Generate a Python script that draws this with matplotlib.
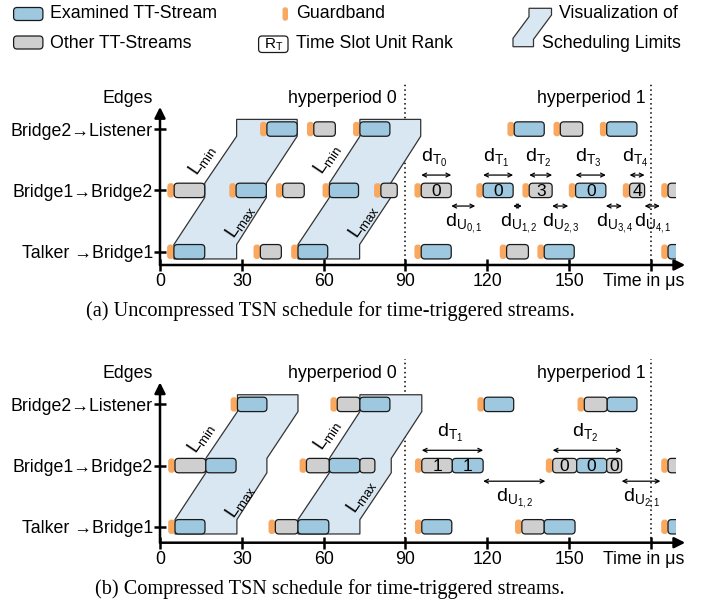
import numpy as np
import matplotlib
matplotlib.use("Agg")
import matplotlib.pyplot as plt
from matplotlib import font_manager as fm
from matplotlib.patches import FancyBboxPatch, Polygon

# ── fonts ─────────────────────────────────────────────────────────────────────
names = {f.name for f in fm.fontManager.ttflist}
SANS = "Liberation Sans Narrow" if "Liberation Sans Narrow" in names else "Liberation Sans"
SERIF = "Liberation Serif"
plt.rcParams["font.family"] = [SANS, "DejaVu Sans"]
plt.rcParams["mathtext.fontset"] = "custom"
plt.rcParams["mathtext.rm"] = SANS
plt.rcParams["mathtext.it"] = SANS

# ── data (times in µs) ────────────────────────────────────────────────────────
EDGES  = ["Talker \u2192Bridge1", "Bridge1\u2192Bridge2", "Bridge2\u2192Listener"]
XTICKS = [0, 30, 60, 90, 120, 150, 180]
XTICK_LABELS = ["0", "30", "60", "90", "120", "150", ""]
HYPER  = [90, 180]

# (start, end, kind, rank)  kind: E examined, O other
A_ROW0 = [(5.1, 16.4, "E", ""), (36.8, 44.5, "O", ""), (50.6, 61.5, "E", ""),
          (95.8, 106.8, "E", ""), (127.1, 135.1, "O", ""), (140.9, 151.9, "E", ""),
          (186.3, 197, "E", "")]
A_ROW1 = [(5.2, 16.4, "O", ""), (27.9, 39.0, "E", ""), (45.0, 52.9, "O", ""),
          (62.1, 72.8, "E", ""), (81.0, 87.0, "O", ""),
          (95.8, 106.8, "O", "0"), (118.5, 129.5, "E", "0"), (135.4, 143.8, "O", "3"),
          (152.4, 163.5, "E", "0"), (172.2, 177.7, "O", "4"), (186.3, 197, "O", "")]
A_ROW2 = [(39.2, 50.3, "E", ""), (56.4, 64.3, "O", ""), (73.3, 84.3, "E", ""),
          (129.9, 140.9, "E", ""), (146.8, 155.0, "O", ""), (163.8, 174.9, "E", "")]

B_ROW0 = [(5.5, 16.5, "E", ""), (42.3, 50.6, "O", ""), (50.6, 61.9, "E", ""),
          (96.0, 107.0, "E", ""), (132.7, 140.9, "O", ""), (140.9, 152.2, "E", ""),
          (186.3, 197, "E", "")]
B_ROW1 = [(5.5, 16.8, "O", ""), (16.8, 27.9, "E", ""), (53.7, 62.1, "O", ""),
          (62.1, 73.3, "E", ""), (73.3, 78.8, "O", ""),
          (96.0, 107.2, "O", "1"), (107.2, 118.5, "E", "1"),
          (144.0, 152.8, "O", "0"), (152.8, 163.8, "E", "0"), (163.8, 169.3, "O", "0"),
          (186.3, 197, "O", "")]
B_ROW2 = [(28.4, 39.2, "E", ""), (65.0, 73.3, "O", ""), (73.3, 84.3, "E", ""),
          (118.9, 129.7, "E", ""), (155.6, 164.0, "O", ""), (164.0, 174.9, "E", "")]

# scheduling-limit polygons: x at rows 0,1,2 of left (L_min) and right (L_max) side
A_POLY_LEFT  = [[5.1, 16.4, 28.1], [50.6, 62.1, 73.3]]
A_POLY_RIGHT = [[28.1, 39.0, 50.3], [73.2, 84.6, 95.6]]
B_POLY_LEFT  = [[5.5, 16.8, 28.4], [50.6, 62.1, 73.3]]
B_POLY_RIGHT = [[28.2, 39.2, 50.6], [73.3, 84.8, 96.0]]

# interval arrows: (start, end, label)
A_DT = [(95.8, 106.8, r"$\mathrm{d_{T_0}}$"), (118.5, 129.5, r"$\mathrm{d_{T_1}}$"),
        (135.4, 143.8, r"$\mathrm{d_{T_2}}$"), (152.4, 163.5, r"$\mathrm{d_{T_3}}$"),
        (172.2, 177.7, r"$\mathrm{d_{T_4}}$")]
A_DU = [(106.8, 115.6, r"$\mathrm{d_{U_{0,1}}}$"), (129.5, 132.7, r"$\mathrm{d_{U_{1,2}}}$"),
        (143.8, 149.7, r"$\mathrm{d_{U_{2,3}}}$"), (163.5, 169.4, r"$\mathrm{d_{U_{3,4}}}$"),
        (177.7, 183.3, r"$\mathrm{d_{U_{4,1}}}$")]
B_DT = [(96.0, 118.5, r"$\mathrm{d_{T_1}}$"), (144.0, 169.3, r"$\mathrm{d_{T_2}}$")]
B_DU = [(118.5, 141.3, r"$\mathrm{d_{U_{1,2}}}$"), (169.3, 183.5, r"$\mathrm{d_{U_{2,1}}}$")]

# ── style ─────────────────────────────────────────────────────────────────────
BLUE, GRAY, ORANGE = "#9dc8e0", "#d0cfcf", "#f9a860"
LIMIT, EDGE = "#d8e7f2", "#1a1a1a"
W, H = 709, 610
PX = 2.727                       # px per µs
GUARD = 2.5
BOX_H = 0.235
XMAX = 189.3
FS = 12.8


def make_axes(bottom_px, row_px, ybot):
    ytop = 2.75
    h = (ytop - ybot) * row_px
    ax = fig.add_axes([160 / W, (H - bottom_px) / H, XMAX * PX / W, h / H])
    ax.set_xlim(0, XMAX); ax.set_ylim(ybot, ytop)
    for s in ax.spines.values(): s.set_visible(False)
    ax.set_xticks(XTICKS, XTICK_LABELS)
    ax.set_yticks([0, 1, 2], EDGES)
    ax.tick_params(direction="inout", length=8, width=1.8, labelsize=FS)
    ax.tick_params(axis="x", pad=2)
    ax.tick_params(axis="y", pad=1)
    ax.patch.set_alpha(0)
    return ax


def draw_panel(ax, rows, poly_l, poly_r, dts, dus, ybot, row_px, lmin_pos, lmax_pos):
    asp = PX / row_px
    h = BOX_H / 2
    # axes with arrows
    ap = dict(arrowstyle="-|>", lw=1.8, color="black", mutation_scale=16, shrinkA=0, shrinkB=0)
    ax.annotate("", xy=(192.6, ybot), xytext=(0, ybot), arrowprops=ap, annotation_clip=False)
    ax.annotate("", xy=(0, 2.36), xytext=(0, ybot), arrowprops=ap, annotation_clip=False)
    for x in HYPER:
        ax.plot([x, x], [ybot, 2.74], ls=(0, (1, 2)), color="black", lw=1.1, zorder=1)
    # limits
    for l, r in zip(poly_l, poly_r):
        t = 2 + h + 0.04
        verts = [(l[0], -h), (l[0], h), (l[1], 1 - h), (l[1], 1 + h), (l[2], 2 - h), (l[2], t),
                 (r[2], t), (r[2], 2 - h), (r[1], 1 + h), (r[1], 1 - h), (r[0], h), (r[0], -h)]
        ax.add_patch(Polygon(verts, closed=True, fc=LIMIT, ec="#333333", lw=0.9, zorder=2))
    for x, y in lmin_pos:
        ax.text(x, y, r"$\mathrm{L_{min}}$", rotation=56, fontsize=13.5, ha="center", va="center")
    for x, y in lmax_pos:
        ax.text(x, y, r"$\mathrm{L_{max}}$", rotation=56, fontsize=13.5, ha="center", va="center")
    # boxes
    for yi, row in enumerate(rows):
        ends = [e for _, e, _, _ in row]
        for s, e, kind, rank in row:
            if not any(abs(s - p) < 0.3 for p in ends):
                g = FancyBboxPatch((s - GUARD, yi - h), GUARD, BOX_H,
                                   boxstyle="round,pad=0,rounding_size=1.1", mutation_aspect=asp,
                                   fc=ORANGE, ec="none", zorder=3)
                ax.add_patch(g)
            b = FancyBboxPatch((s, yi - h), e - s, BOX_H,
                               boxstyle="round,pad=0,rounding_size=1.3", mutation_aspect=asp,
                               fc=BLUE if kind == "E" else GRAY, ec=EDGE, lw=0.9, zorder=4)
            ax.add_patch(b)
            if rank:
                ax.text((s + e) / 2, yi - 0.01, rank, ha="center", va="center", fontsize=12.5, zorder=5)
    # interval arrows
    aa = dict(arrowstyle="<->", lw=0.9, color="black", mutation_scale=7, shrinkA=0, shrinkB=0)
    for s, e, lab in dts:
        ax.annotate("", xy=(e, 1.25), xytext=(s, 1.25), arrowprops=aa)
        ax.text((s + e) / 2 - 0.8, 1.53, lab, ha="center", va="center", fontsize=14)
    for s, e, lab in dus:
        ax.annotate("", xy=(e, 0.745), xytext=(s, 0.745), arrowprops=aa)
        ax.text((s + e) / 2 + 0.3, 0.47, lab, ha="center", va="center", fontsize=14)
    # labels
    ax.text(-2.6, 2.5, "Edges", ha="right", va="center", fontsize=FS)
    ax.text(86.9, 2.5, "hyperperiod 0", ha="right", va="center", fontsize=FS)
    ax.text(177.9, 2.5, "hyperperiod 1", ha="right", va="center", fontsize=FS)
    ax.text(192.4, ybot - 0.27, "Time in \u03bcs", ha="right", va="center", fontsize=FS)


fig = plt.figure(figsize=(W / 100, H / 100), dpi=100)

# ── legend (pixel overlay) ────────────────────────────────────────────────────
lg = fig.add_axes([0, 0, 1, 1]); lg.set_xlim(0, W); lg.set_ylim(H, 0); lg.axis("off")
for y0, col in [(7.5, BLUE), (36, GRAY)]:
    lg.add_patch(FancyBboxPatch((13.6, y0), 29.3, 13, boxstyle="round,pad=0,rounding_size=3.5",
                                fc=col, ec=EDGE, lw=0.9))
lg.add_patch(FancyBboxPatch((282.5, 7.3), 5.5, 13.4, boxstyle="round,pad=0,rounding_size=2.5",
                            fc=ORANGE, ec="none"))
lg.add_patch(FancyBboxPatch((258.6, 36), 29.4, 16.5, boxstyle="round,pad=0,rounding_size=3.5",
                            fc="white", ec=EDGE, lw=0.9))
lg.text(273.3, 44.5, r"$\mathrm{R_T}$", ha="center", va="center", fontsize=11)
lg.add_patch(Polygon([(529, 8.3), (551.5, 8.3), (551.5, 15), (533.5, 39.3), (533.5, 46.7),
                      (513, 46.7), (513, 38.3), (529, 16.7)], closed=True,
                     fc=LIMIT, ec="#333333", lw=0.9))
for x, y, s in [(49.7, 14, "Examined TT-Stream"), (49.7, 43, "Other TT-Streams"),
                (296, 14, "Guardband"), (296, 43, "Time Slot Unit Rank"),
                (559, 14, "Visualization of"), (542.5, 43, "Scheduling Limits")]:
    lg.text(x, y, s, ha="left", va="center", fontsize=FS)

# ── panel (a) ─────────────────────────────────────────────────────────────────
ya = -0.216
ax_a = make_axes(265, 61.35, ya)
draw_panel(ax_a, [A_ROW0, A_ROW1, A_ROW2], A_POLY_LEFT, A_POLY_RIGHT, A_DT, A_DU, ya, 61.35,
           [(15.2, 1.5), (61.3, 1.52)], [(29.3, 0.5), (74.6, 0.5)])
fig.text(330 / W, 1 - 311 / H, "(a) Uncompressed TSN schedule for time-triggered streams.",
         ha="center", va="center", fontsize=14.6, family=SERIF)

# ── panel (b) ─────────────────────────────────────────────────────────────────
yb = -0.26
ax_b = make_axes(542.7, 61.2, yb)
draw_panel(ax_b, [B_ROW0, B_ROW1, B_ROW2], B_POLY_LEFT, B_POLY_RIGHT, B_DT, B_DU, yb, 61.2,
           [(15.0, 1.45), (61.3, 1.5)], [(29.5, 0.42), (73.8, 0.5)])
fig.text(330 / W, 1 - 589 / H, "(b) Compressed TSN schedule for time-triggered streams.",
         ha="center", va="center", fontsize=14.6, family=SERIF)

fig.savefig("out.png", dpi=100)
